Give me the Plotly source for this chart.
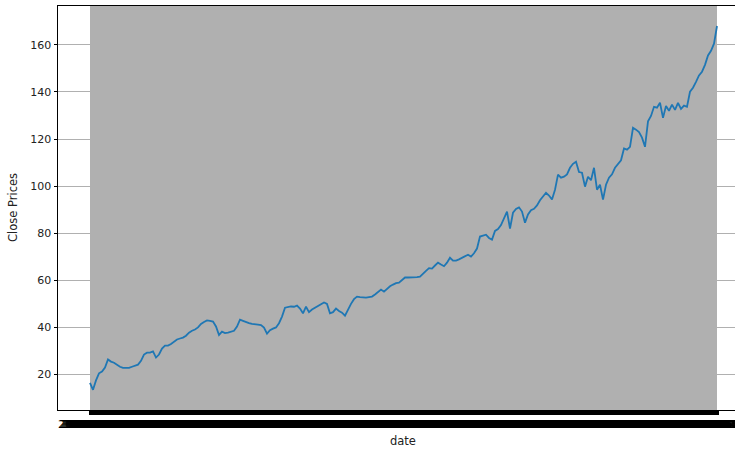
import pandas as pd
import plotly.graph_objects as go

# close prices, roughly one value every 3 px along the axis
close = [
    16.5, 13.5, 17.5, 20.5, 21.3, 23.0, 26.4, 25.5, 25.0, 24.0,
    23.3, 22.8, 22.8, 22.8, 23.3, 23.8, 24.2, 25.8, 28.5, 29.3,
    29.3, 29.8, 27.2, 28.5, 31.0, 32.3, 32.3, 33.0, 33.8, 34.9,
    35.3, 35.7, 36.5, 37.8, 38.6, 39.1, 40.0, 41.5, 42.3, 43.0,
    42.8, 42.5, 40.4, 36.8, 38.2, 37.6, 37.8, 38.2, 38.6, 40.4,
    43.3, 42.8, 42.2, 41.8, 41.5, 41.2, 41.2, 41.0, 39.9, 37.4,
    38.8, 39.5, 40.0, 41.8, 44.6, 48.4, 48.8, 48.9, 48.8, 49.3,
    48.0, 46.0, 48.8, 46.5, 47.6, 48.4, 49.0, 49.7, 50.6, 50.0,
    46.0, 46.5, 48.0, 47.0, 46.3, 45.0, 47.6, 50.0, 52.0, 53.1,
    52.9, 52.7, 52.7, 52.9, 53.1, 54.0, 55.2, 56.1, 55.2, 56.5,
    57.5, 58.2, 58.8, 59.0, 60.0, 61.2, 61.2, 61.2, 61.2, 61.4,
    61.6, 62.6, 64.0, 65.2, 65.0, 66.3, 67.5, 66.7, 66.0, 67.5,
    69.6, 68.4, 68.4, 68.9, 69.6, 70.3, 70.9, 70.1, 71.5, 73.5,
    78.6, 79.0, 79.4, 78.0, 77.3, 81.0, 81.8, 83.5, 86.5, 89.2,
    82.0, 88.7, 90.3, 91.0, 89.2, 84.5, 88.0, 89.8, 90.4, 91.8,
    94.0, 95.5, 97.2, 96.0, 94.3, 98.5, 104.9, 103.6, 104.0, 105.0,
    107.8, 109.5, 110.4, 106.0, 105.7, 99.8, 104.0, 102.5, 107.8, 98.5,
    100.6, 94.3, 100.6, 103.6, 105.0, 107.8, 109.5, 111.0, 116.0, 115.5,
    116.7, 124.8, 124.0, 123.0, 120.6, 116.7, 127.5, 129.8, 133.7, 133.3,
    135.4, 129.0, 134.0, 132.0, 134.6, 132.4, 135.4, 132.8, 134.2, 133.7,
    140.1, 141.8, 144.3, 147.0, 148.6, 151.5, 155.5, 157.5, 160.5, 168.0,
]
dates = list(pd.date_range("2010-01-04", periods=len(close), freq="14D").strftime("%Y-%m-%d"))

y_ticks = [20, 40, 60, 80, 100, 120, 140, 160]

W, H = 735, 450
L, R, T, B = 58, 0, 6, 40
n = len(close)
# first point sits at x=90 px, last at x=717 px in the reference
px_per_step = (717 - 90) / (n - 1)
x_lo = -(90 - L) / px_per_step
x_hi = (n - 1) + (W - R - 717) / px_per_step

font = "DejaVu Sans"

fig = go.Figure()

# matplotlib draws a grid line per category -> solid grey block
fig.add_shape(type="rect", xref="x", yref="paper", x0=0, x1=n - 1, y0=0, y1=1,
              fillcolor="#b0b0b0", line=dict(width=0), layer="below")

fig.add_trace(go.Scatter(
    x=dates, y=close, mode="lines",
    line=dict(color="#1f77b4", width=1.8),
    hoverinfo="none", showlegend=False,
))

fig.update_layout(
    width=W, height=H,
    margin=dict(l=L, r=R, t=T, b=B, autoexpand=False),
    paper_bgcolor="white", plot_bgcolor="white",
    font=dict(family=font, size=11, color="#222"),
    xaxis=dict(
        type="category", range=[x_lo, x_hi], automargin=False,
        tickmode="array", tickvals=dates, ticktext=dates, tickangle=0,
        ticks="outside", ticklen=4, tickwidth=3, tickcolor="black",
        # every date label is drawn; they pile up into one dark band like the original
        tickfont=dict(size=11, color="black", shadow="1px 0 0 #000, 2px 0 0 #000"),
        showgrid=False, zeroline=False,
        showline=True, linecolor="black", linewidth=1, mirror=True,
    ),
    yaxis=dict(
        range=[4.94, 176.5], automargin=False,
        tickmode="array", tickvals=y_ticks,
        ticks="outside", ticklen=3.5, tickwidth=1, tickcolor="black",
        showgrid=True, gridcolor="#b0b0b0", gridwidth=0.8,
        zeroline=False,
        showline=True, linecolor="black", linewidth=1,
    ),
)

fig.add_annotation(text="date", xref="paper", yref="paper",
                   x=(403 - L) / (W - L - R), y=-(441 - (H - B)) / (H - T - B),
                   xanchor="center", yanchor="middle", showarrow=False,
                   font=dict(family=font, size=11.5, color="#222"))
fig.add_annotation(text="Close Prices", xref="paper", yref="paper",
                   x=(13 - L) / (W - L - R), y=(H - B - 208) / (H - T - B),
                   xanchor="center", yanchor="middle", showarrow=False, textangle=-90,
                   font=dict(family=font, size=11.5, color="#222"))

# drop the browser's default 8px body margin so the figure sits at the page corner
fig.write_html("out.html", config={"displayModeBar": False},
               post_script="document.body.style.margin = '0';")
